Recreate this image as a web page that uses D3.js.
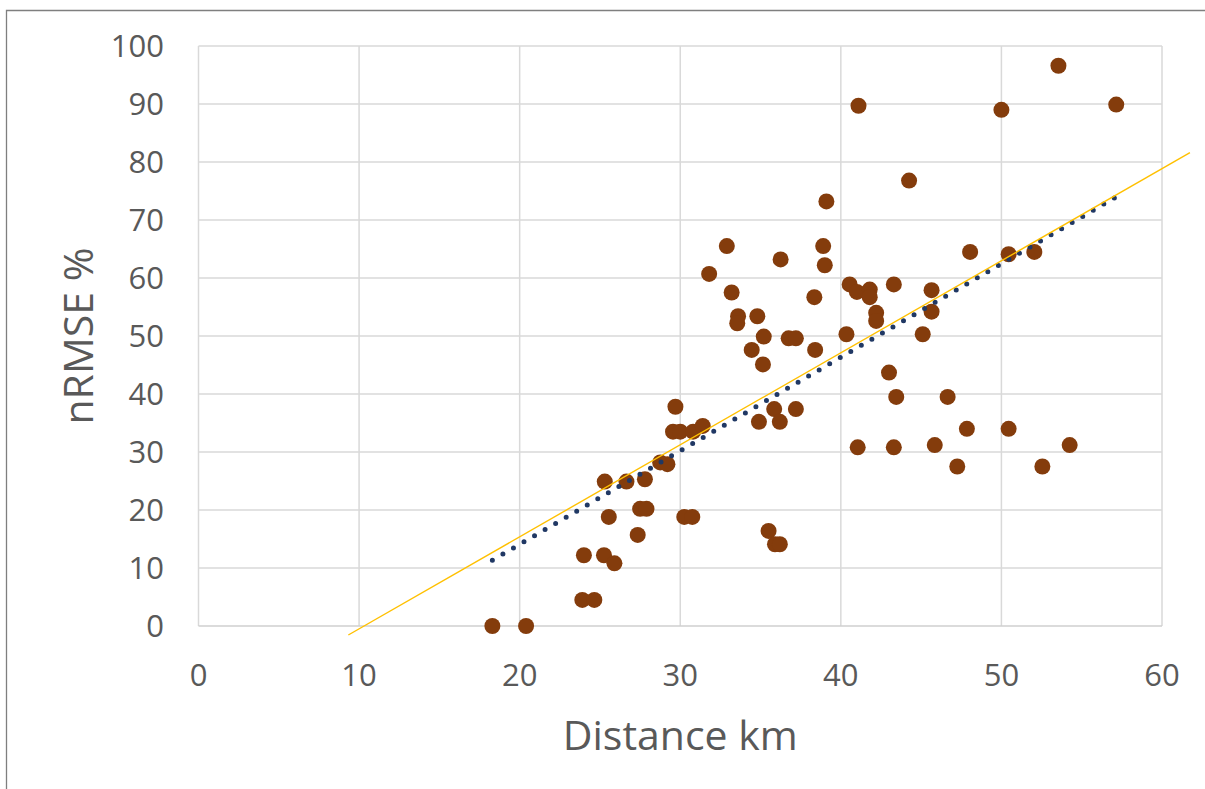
<!DOCTYPE html>
<html>
<head>
<meta charset="utf-8">
<script src="https://cdn.jsdelivr.net/npm/d3@7"></script>
<style>
  body { margin: 0; background: #fff; }
  svg { display: block; }
</style>
</head>
<body>
<div id="chart"></div>
<script>
// distance (km) and nRMSE (%)
const distanceKm = [18.3, 20.4, 23.9, 24.65, 24.0, 25.25, 25.9, 25.3, 25.55, 26.65,
  27.35, 27.5, 27.9, 27.8, 28.75, 29.2, 29.55, 30.0, 29.7, 30.25,
  30.75, 30.8, 31.4, 31.8, 32.9, 33.2, 33.6, 33.55, 34.45, 34.8,
  34.9, 35.15, 35.2, 35.5, 35.85, 35.9, 36.2, 36.2, 36.25, 36.75,
  37.2, 37.2, 38.35, 38.4, 38.9, 39.0, 39.1, 40.35, 40.55, 41.0,
  41.05, 41.1, 41.8, 41.8, 42.2, 42.2, 43.0, 43.3, 43.3, 43.45,
  44.25, 45.1, 45.65, 45.65, 45.85, 46.65, 47.25, 47.85, 48.05, 50.0,
  50.45, 50.45, 52.05, 52.55, 53.55, 54.25, 57.15];
const nrmse = [0, 0, 4.5, 4.5, 12.2, 12.2, 10.8, 24.9, 18.8, 24.9,
  15.7, 20.2, 20.2, 25.3, 28.2, 27.9, 33.5, 33.5, 37.8, 18.8,
  18.8, 33.5, 34.5, 60.7, 65.5, 57.5, 53.4, 52.2, 47.6, 53.4,
  35.2, 45.1, 49.9, 16.4, 37.4, 14.1, 14.1, 35.2, 63.2, 49.6,
  49.6, 37.4, 56.7, 47.6, 65.5, 62.2, 73.2, 50.3, 58.9, 57.6,
  30.8, 89.7, 58.0, 56.7, 54.0, 52.6, 43.7, 58.9, 30.8, 39.5,
  76.8, 50.3, 57.9, 54.2, 31.2, 39.5, 27.5, 34.0, 64.5, 89.0,
  34.0, 64.1, 64.5, 27.5, 96.6, 31.2, 89.9];

// the hand drawn yellow line (end points)
const guideX = [9.33, 61.74];
const guideY = [-1.55, 81.6];

const xTicks = [0, 10, 20, 30, 40, 50, 60];
const yTicks = [0, 10, 20, 30, 40, 50, 60, 70, 80, 90, 100];

const width = 1205, height = 789;
const font = "'Open Sans', Lato, sans-serif";
const textColor = "#595959";

const svg = d3.select("#chart").append("svg")
  .attr("width", width)
  .attr("height", height);

// outer frame (only left and top edges show)
svg.append("path")
  .attr("d", `M6.5,${height} V10.5 H${width}`)
  .attr("fill", "none")
  .attr("stroke", "#7f7f7f")
  .attr("stroke-width", 1.3);

const x = d3.scaleLinear().domain([0, 60]).range([198.5, 1162]);
const y = d3.scaleLinear().domain([0, 100]).range([626, 46]);

// grid
const grid = svg.append("g");
grid.selectAll(".gx").data(xTicks).enter().append("line")
  .attr("x1", d => x(d)).attr("x2", d => x(d))
  .attr("y1", y(0)).attr("y2", y(100))
  .attr("stroke", "#d9d9d9").attr("stroke-width", 1.5);
grid.selectAll(".gy").data(yTicks).enter().append("line")
  .attr("x1", x(0)).attr("x2", x(60))
  .attr("y1", d => y(d)).attr("y2", d => y(d))
  .attr("stroke", d => d === 0 ? "#cfcfcf" : "#d9d9d9").attr("stroke-width", 1.5);

// tick labels
svg.append("g").selectAll("text").data(yTicks).enter().append("text")
  .attr("x", 164)
  .attr("y", d => y(d))
  .attr("dy", "0.35em")
  .attr("text-anchor", "end")
  .style("font-family", font)
  .style("font-size", "31px")
  .style("fill", textColor)
  .text(d => d);

svg.append("g").selectAll("text").data(xTicks).enter().append("text")
  .attr("x", d => x(d))
  .attr("y", 675)
  .attr("dy", "0.35em")
  .attr("text-anchor", "middle")
  .style("font-family", font)
  .style("font-size", "31px")
  .style("fill", textColor)
  .text(d => d);

// axis titles
svg.append("text")
  .attr("x", x(30))
  .attr("y", 750)
  .attr("text-anchor", "middle")
  .style("font-family", font)
  .style("font-size", "41px")
  .style("fill", textColor)
  .text("Distance km");

svg.append("text")
  .attr("transform", `translate(93, ${y(50)}) rotate(-90)`)
  .attr("text-anchor", "middle")
  .style("font-family", font)
  .style("font-size", "41px")
  .style("fill", textColor)
  .text("nRMSE %");

// points
const points = distanceKm.map((d, i) => ({ x: d, y: nrmse[i] }));
svg.append("g").selectAll("circle").data(points).enter().append("circle")
  .attr("cx", d => x(d.x))
  .attr("cy", d => y(d.y))
  .attr("r", 8)
  .attr("fill", "#843c0c");

// linear trendline (least squares) over the data range
const mx = d3.mean(distanceKm), my = d3.mean(nrmse);
const slope = d3.sum(points, d => (d.x - mx) * (d.y - my)) / d3.sum(points, d => (d.x - mx) ** 2);
const icept = my - slope * mx;
const [xmin, xmax] = d3.extent(distanceKm);
svg.append("line")
  .attr("x1", x(xmin)).attr("y1", y(slope * xmin + icept))
  .attr("x2", x(xmax)).attr("y2", y(slope * xmax + icept))
  .attr("stroke", "#203864")
  .attr("stroke-width", 5)
  .attr("stroke-linecap", "round")
  .attr("stroke-dasharray", "0 12.2");

// yellow guide line
svg.append("line")
  .attr("x1", x(guideX[0])).attr("y1", y(guideY[0]))
  .attr("x2", x(guideX[1])).attr("y2", y(guideY[1]))
  .attr("stroke", "#ffc000")
  .attr("stroke-width", 1.4);
</script>
</body>
</html>
